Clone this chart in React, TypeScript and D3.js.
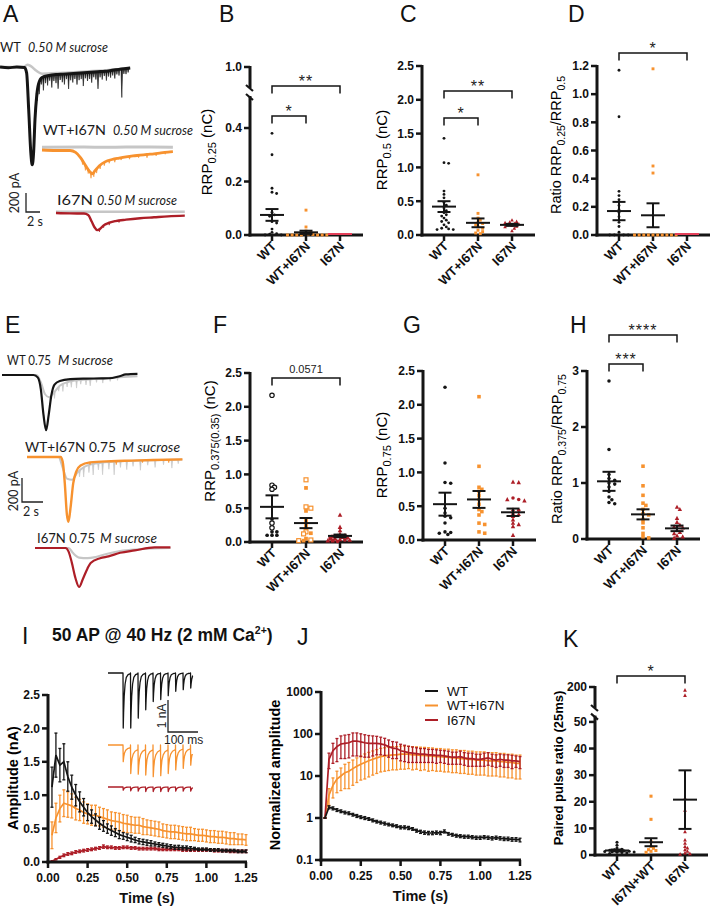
import React from 'react';
import * as d3 from 'd3';

type Pt = [number, number];

const FONT = "'Liberation Sans', Arial, Helvetica, sans-serif";
const TRACE_FONT = "Lato, 'Liberation Sans', sans-serif";
const BLACK = '#151515';
const ORANGE = '#f7922f';
const RED = '#ad1e27';
const GRAY = '#c6c6c6';
const PINK = '#e4405a';

// ---------- A: 0.50 M sucrose responses, [time (s), current (pA)] ----------
const aWT: Pt[] = [[0, 0], [1.2, -8], [2.4, 0], [3.5, -6], [3.8, -60], [4.1, -450], [4.4, -900], [4.6, -1030], [4.8, -900], [5.0, -550], [5.25, -300], [5.5, -180], [6, -110], [7, -90], [8, -80], [9, -75], [10, -70], [11, -65], [12, -60], [13, -55], [14, -50], [15, -45], [16, -35], [17, -25], [18, -15], [18.6, -10]];
const aWTGray: Pt[] = [[0, 0], [3.4, 0], [3.9, 25], [4.4, 10], [5.2, -40], [6, -70], [9, -60], [14, -40], [18.6, -10]];
const aWTSpikes: Pt[] = [[5.3, -80], [5.6, -120], [5.9, -60], [6.2, -140], [6.5, -70], [6.8, -100], [7.1, -55], [7.4, -130], [7.7, -65], [8.0, -90], [8.3, -150], [8.6, -60], [8.9, -85], [9.2, -110], [9.5, -55], [9.8, -160], [10.1, -70], [10.4, -95], [10.7, -60], [11.0, -120], [11.3, -75], [11.6, -65], [11.9, -140], [12.2, -60], [12.5, -90], [12.8, -70], [13.1, -110], [13.4, -55], [13.7, -80], [14.0, -180], [14.3, -60], [14.6, -85], [14.9, -50], [15.2, -100], [15.5, -60], [15.8, -75], [16.1, -55], [16.4, -90], [16.7, -50], [17.0, -65], [17.4, -300], [17.7, -55], [18.0, -60], [18.3, -45]];
const aMix: Pt[] = [[0, 0], [2, -5], [4, -5], [4.8, -25], [5.5, -80], [6.2, -160], [6.8, -225], [7.2, -250], [7.6, -215], [8.2, -165], [9, -125], [10, -100], [11, -85], [12, -72], [13, -62], [14, -55], [15, -47], [16, -40], [17, -30], [18, -22], [18.7, -18]];
const aMixGray: Pt[] = [[0, 30], [6, 32], [9, 28], [12, 31], [18.7, 30]];
const aMixSpikes: Pt[] = [[5.8, -40], [6.2, -55], [6.6, -45], [7.0, -60], [7.4, -50], [7.8, -45], [8.3, -40], [8.9, -35], [9.6, -30], [10.4, -35], [11.3, -25], [12.5, -30], [13.8, -25], [15.0, -35], [16.3, -25], [17.6, -20]];
const aI67N: Pt[] = [[0, 0], [2, -4], [4, -5], [4.6, -20], [5.1, -90], [5.5, -150], [5.9, -180], [6.3, -165], [6.8, -130], [7.5, -105], [8.5, -85], [10, -70], [12, -55], [14, -45], [16, -35], [18.4, -28]];
const aI67NGray: Pt[] = [[0, 12], [18.4, 12]];
const aI67NSpikes: Pt[] = [[6.2, -30], [6.8, -25], [7.6, -25], [9, -20]];

// ---------- E: 0.75 M sucrose responses ----------
const eWT: Pt[] = [[0, 0], [3, 0], [3.4, -20], [3.7, -120], [3.95, -330], [4.2, -460], [4.45, -330], [4.7, -170], [5.0, -80], [5.5, -50], [6.5, -35], [8, -30], [9.5, -28], [10.5, -25], [11.2, -10], [11.8, 5], [12.9, 10]];
const eWTGray: Pt[] = [[0, 0], [3.3, 0], [3.7, -60], [4.1, -160], [4.5, -185], [5.0, -140], [5.5, -90], [6.2, -60], [7, -45], [8.5, -35], [10, -25], [12.9, -10]];
const eWTGraySpikes: Pt[] = [[4.6, -40], [5.0, -55], [5.4, -35], [5.8, -60], [6.2, -40], [6.6, -50], [7.1, -65], [7.5, -35], [8.0, -45], [8.4, -55], [9.0, -30], [9.6, -40], [10.3, -30], [11, -25]];
const eMix: Pt[] = [[0, 0], [3.2, 0], [3.4, -40], [3.6, -220], [3.8, -480], [3.95, -540], [4.15, -420], [4.4, -220], [4.7, -120], [5.1, -70], [6, -45], [8, -35], [10, -30], [12, -25], [14.8, -20]];
const eMixGray: Pt[] = [[0, 0], [3.0, 0], [3.4, -90], [3.8, -180], [4.3, -190], [4.8, -130], [5.5, -80], [6.5, -55], [8, -40], [11, -30], [14.8, -20]];
const eMixGraySpikes: Pt[] = [[5, -50], [5.4, -80], [5.9, -60], [6.3, -90], [6.8, -55], [7.2, -100], [7.8, -60], [8.3, -110], [8.9, -50], [9.5, -70], [10.1, -45], [10.8, -80], [11.5, -40], [12.2, -60], [13.0, -40], [13.8, -70], [14.4, -35]];
const eMixSpikes: Pt[] = [[6, -20], [8.5, -30], [11, -20], [13.5, -25]];
const eI67N: Pt[] = [[0, 0], [2.9, 0], [3.2, -30], [3.5, -120], [3.85, -250], [4.2, -325], [4.55, -260], [5.0, -170], [5.3, -125], [6.2, -85], [7, -70], [8.1, -40], [9.5, -20], [11.4, 5], [12.9, 5]];
const eI67NGray: Pt[] = [[0, 0], [3.2, 0], [3.6, -40], [4.2, -80], [5, -85], [5.8, -75], [6.8, -50], [8.1, -25], [10, -10], [12.9, 0]];

// ---------- scatter panels ----------
const CATS = ['WT', 'WT+I67N', 'I67N'];
const CATS_K = ['WT', 'I67N+WT', 'I67N'];

const bWT = [0.38, 0.30, 0.175, 0.16, 0.155, 0.085, 0.075, 0.07, 0.05, 0.045, 0.022, 0.01, 0.005, 0.003, 0, 0];
const bMix = [0.093, 0.03, 0.015, 0.01, 0.006, 0.004, 0.002, 0, 0, 0, 0, 0, 0, 0];
const bI67N = [0, 0, 0, 0, 0, 0, 0, 0, 0, 0];
const bMean = [0.075, 0.01, 0];
const bSem = [0.022, 0.006, 0];

const cWT = [1.43, 1.07, 1.06, 0.65, 0.6, 0.55, 0.48, 0.44, 0.4, 0.36, 0.33, 0.3, 0.28, 0.25, 0.22, 0.2, 0.18, 0.15, 0.12, 0.1, 0.09, 0.08, 0.08];
const cMix = [0.89, 0.32, 0.25, 0.22, 0.19, 0.17, 0.15, 0.12, 0.1, 0.07, 0.05, 0.03, 0.02];
const cI67N = [0.22, 0.2, 0.19, 0.18, 0.17, 0.16, 0.15, 0.14, 0.13, 0.12, 0.1, 0.06];
const cMean = [0.42, 0.18, 0.15];
const cSem = [0.08, 0.065, 0.015];

const dWT = [1.17, 0.84, 0.31, 0.28, 0.25, 0.21, 0.18, 0.16, 0.13, 0.09, 0.06, 0.02, 0, 0, 0, 0, 0];
const dMix = [1.18, 0.49, 0.44, 0, 0, 0, 0, 0, 0, 0, 0, 0, 0];
const dI67N = [0, 0, 0, 0, 0, 0, 0, 0];
const dMean = [0.17, 0.14, 0];
const dSem = [0.065, 0.085, 0];

const fWT = [2.17, 0.84, 0.81, 0.78, 0.34, 0.28, 0.21, 0.15, 0.15, 0.1, 0.1, 0.1];
const fWTOpen = [1, 1, 1, 1, 0, 1, 1, 0, 0, 0, 0, 0];
const fMix = [0.92, 0.8, 0.52, 0.5, 0.46, 0.32, 0.25, 0.2, 0.15, 0.13, 0.12, 0.05, 0.03, 0.02, 0.02];
const fMixOpen = [1, 0, 1, 1, 0, 0, 0, 0, 1, 0, 1, 0, 1, 0, 1];
const fI67N = [0.4, 0.22, 0.17, 0.12, 0.1, 0.09, 0.08, 0.07, 0.06, 0.05, 0.05, 0.04, 0.03, 0.03, 0.02, 0.02, 0.01];
const fI67NShape = ['t', 't', 't', 't', 'c', 't', 's', 't', 'c', 't', 's', 't', 'c', 't', 's', 't', 'c'];
const fMean = [0.52, 0.28, 0.09];
const fSem = [0.17, 0.075, 0.02];

const gWT = [2.26, 1.14, 0.85, 0.84, 0.47, 0.4, 0.35, 0.33, 0.25, 0.12, 0.11, 0.1, 0.08];
const gMix = [2.12, 1.09, 0.78, 0.75, 0.72, 0.66, 0.6, 0.53, 0.45, 0.42, 0.37, 0.25, 0.23, 0.12, 0.1];
const gI67N = [0.86, 0.85, 0.62, 0.6, 0.6, 0.58, 0.45, 0.44, 0.4, 0.38, 0.35, 0.3, 0.25, 0.23, 0.2, 0.07];
const gI67NShape = ['t', 't', 'c', 'c', 't', 't', 't', 'c', 't', 't', 't', 't', 't', 't', 't', 't'];
const gMean = [0.53, 0.6, 0.41];
const gSem = [0.17, 0.125, 0.055];

const hWT = [2.82, 1.6, 1.15, 1.08, 1.05, 1.0, 0.98, 0.93, 0.85, 0.75, 0.7, 0.65, 0.63];
const hMix = [1.3, 0.95, 0.78, 0.64, 0.6, 0.53, 0.45, 0.43, 0.35, 0.29, 0.2, 0.1, 0.04, 0.02];
const hI67N = [0.57, 0.53, 0.37, 0.3, 0.25, 0.22, 0.2, 0.16, 0.12, 0.1, 0.06, 0.04, 0.02];
const hMean = [1.03, 0.44, 0.19];
const hSem = [0.17, 0.09, 0.05];

const kWT = [4.8, 3.7, 2.6, 2.2, 2.0, 1.8, 1.6, 1.5, 1.4, 1.3, 1.2, 1.1, 1.0, 0.9, 0.8, 0.6];
const kMix = [22.1, 13.4, 5.0, 3.2, 2.5, 2.0, 1.7, 1.4, 1.0];
const kI67N = [185, 160, 21.3, 16.8, 8.7, 5.6, 4.4, 3.2, 2.6, 2.0, 1.4, 0.8, 0.5, 0.3];
const kMean = [1.7, 4.8, 20.8];
const kSem = [0.35, 1.5, 11];

// ---------- I / J: 50 AP @ 40 Hz ----------
const AP_RATE_HZ = 40;
const iWT = [1.12, 1.6, 1.45, 1.5, 1.28, 1.12, 1.0, 0.9, 0.82, 0.74, 0.68, 0.63, 0.58, 0.54, 0.5, 0.47, 0.44, 0.41, 0.39, 0.37, 0.35, 0.33, 0.31, 0.3, 0.29, 0.28, 0.27, 0.26, 0.25, 0.24, 0.23, 0.22, 0.22, 0.21, 0.21, 0.2, 0.2, 0.19, 0.19, 0.19, 0.18, 0.18, 0.18, 0.17, 0.17, 0.17, 0.17, 0.16, 0.16, 0.16];
const iWTSem = [0.3, 0.33, 0.25, 0.27, 0.22, 0.18, 0.16, 0.15, 0.13, 0.12, 0.1, 0.09, 0.09, 0.08, 0.07, 0.07, 0.06, 0.06, 0.05, 0.05, 0.05, 0.04, 0.04, 0.04, 0.04, 0.04, 0.03, 0.03, 0.03, 0.03, 0.03, 0.03, 0.03, 0.03, 0.03, 0.03, 0.02, 0.02, 0.02, 0.02, 0.02, 0.02, 0.02, 0.02, 0.02, 0.02, 0.02, 0.02, 0.02, 0.02];
const iMix = [0.4, 0.66, 0.8, 0.88, 0.86, 0.84, 0.8, 0.78, 0.74, 0.72, 0.7, 0.7, 0.68, 0.66, 0.64, 0.62, 0.61, 0.6, 0.58, 0.57, 0.56, 0.55, 0.55, 0.53, 0.52, 0.51, 0.5, 0.49, 0.47, 0.46, 0.45, 0.45, 0.44, 0.43, 0.42, 0.42, 0.41, 0.4, 0.4, 0.39, 0.38, 0.38, 0.37, 0.37, 0.36, 0.35, 0.35, 0.34, 0.34, 0.33];
const iMixSem = [0.2, 0.22, 0.2, 0.2, 0.19, 0.18, 0.17, 0.16, 0.16, 0.15, 0.15, 0.15, 0.14, 0.14, 0.14, 0.13, 0.13, 0.13, 0.13, 0.13, 0.12, 0.12, 0.12, 0.12, 0.11, 0.11, 0.11, 0.11, 0.1, 0.1, 0.1, 0.1, 0.1, 0.1, 0.1, 0.1, 0.09, 0.09, 0.09, 0.09, 0.09, 0.09, 0.09, 0.09, 0.09, 0.09, 0.09, 0.08, 0.08, 0.08];
const iI67N = [0.01, 0.04, 0.07, 0.1, 0.12, 0.13, 0.15, 0.16, 0.17, 0.18, 0.19, 0.2, 0.21, 0.23, 0.22, 0.22, 0.21, 0.21, 0.22, 0.22, 0.21, 0.21, 0.2, 0.2, 0.2, 0.2, 0.2, 0.19, 0.19, 0.19, 0.19, 0.19, 0.19, 0.18, 0.18, 0.18, 0.18, 0.18, 0.18, 0.18, 0.18, 0.17, 0.17, 0.17, 0.17, 0.16, 0.16, 0.16, 0.16, 0.16];
const iI67NSem = [0.01, 0.01, 0.015, 0.02, 0.02, 0.02, 0.02, 0.02, 0.02, 0.02, 0.02, 0.02, 0.02, 0.025, 0.02, 0.02, 0.02, 0.02, 0.02, 0.02, 0.02, 0.02, 0.02, 0.02, 0.02, 0.02, 0.02, 0.02, 0.02, 0.02, 0.02, 0.02, 0.02, 0.02, 0.02, 0.02, 0.02, 0.02, 0.02, 0.02, 0.02, 0.02, 0.02, 0.02, 0.02, 0.02, 0.02, 0.02, 0.02, 0.02];

const jWT = [1.0, 1.8, 1.7, 1.55, 1.45, 1.35, 1.3, 1.2, 1.12, 1.05, 1.0, 0.95, 0.88, 0.82, 0.78, 0.74, 0.7, 0.67, 0.64, 0.6, 0.6, 0.58, 0.55, 0.5, 0.47, 0.45, 0.44, 0.44, 0.45, 0.44, 0.48, 0.42, 0.4, 0.38, 0.37, 0.36, 0.36, 0.35, 0.34, 0.34, 0.35, 0.34, 0.33, 0.34, 0.33, 0.32, 0.32, 0.31, 0.31, 0.3];
const jWTSem = [0, 0.15, 0.14, 0.12, 0.11, 0.1, 0.1, 0.09, 0.09, 0.08, 0.08, 0.07, 0.07, 0.06, 0.06, 0.06, 0.05, 0.05, 0.05, 0.05, 0.05, 0.05, 0.04, 0.04, 0.04, 0.04, 0.04, 0.04, 0.04, 0.04, 0.04, 0.03, 0.03, 0.03, 0.03, 0.03, 0.03, 0.03, 0.03, 0.03, 0.03, 0.03, 0.03, 0.03, 0.03, 0.03, 0.03, 0.03, 0.03, 0.03];
const jMix = [1.0, 3.5, 6, 8.5, 10, 12, 13, 15, 17, 19, 21, 23, 25, 27, 29, 30, 31, 32, 32, 33, 33, 33, 32, 32, 31, 31, 30, 30, 29, 29, 28, 28, 27, 27, 26, 26, 25, 25, 24, 24, 24, 23, 23, 23, 22, 22, 21, 21, 20, 20];
const jMixSem = [0, 1.5, 3, 4.5, 5.5, 7, 8, 9, 10, 11, 12.5, 13.5, 14.5, 15.5, 16.5, 17, 17.5, 18, 18, 18.5, 18.5, 18, 18, 17.5, 17.5, 17, 17, 16.5, 16, 16, 15.5, 15.5, 15, 15, 14.5, 14.5, 14, 14, 13.5, 13.5, 13.5, 13, 13, 13, 12.5, 12.5, 12, 12, 11.5, 11.5];
const jI67N = [1.0, 25, 40, 50, 58, 60, 62, 68, 68, 65, 62, 60, 60, 60, 58, 55, 50, 46, 45, 40, 38, 36, 35, 34, 33, 33, 32, 32, 31, 31, 30, 29, 28, 28, 29, 27, 26, 26, 25, 25, 26, 27, 25, 24, 25, 24, 24, 23, 23, 22];
const jI67NSem = [0, 10, 20, 28, 32, 34, 35, 38, 38, 36, 34, 32, 30, 28, 26, 24, 22, 20, 19, 17, 16, 15, 14, 13, 12, 12, 11, 11, 11, 10, 10, 10, 9, 9, 10, 9, 9, 9, 8, 8, 9, 9, 8, 8, 8, 8, 8, 8, 7, 7];

// inset: first 10 EPSCs of the train
const insetPulseMs = [50, 75, 100, 125, 150, 175, 200, 225, 250, 275];
const insetEndMs = 283;
const insetWTAmp = [1.72, 1.72, 1.41, 1.15, 0.89, 0.83, 0.71, 0.57, 0.52, 0.47];
const insetMixAmp = [0.52, 0.89, 0.91, 0.94, 0.99, 0.96, 0.89, 0.78, 0.73, 0.63];
const insetI67NAmp = [0.1, 0.12, 0.13, 0.14, 0.14, 0.14, 0.14, 0.13, 0.13, 0.13];
const pulseFast: Pt[] = [[0, 0], [0.8, 1], [2, 0.72], [4, 0.42], [7, 0.2], [11, 0.08], [17, 0.03], [24.9, 0.01]];
const pulseSlow: Pt[] = [[0, 0], [0.8, 1], [2.5, 0.72], [5, 0.48], [9, 0.32], [15, 0.22], [24.9, 0.16]];

// ---------------------------------------------------------------------------

function Trace({ data, x0, base, pxPerS, pxPerPA, color, width, spikes }: {
  data: Pt[]; x0: number; base: number; pxPerS: number; pxPerPA: number; color: string; width: number; spikes?: Pt[];
}) {
  const tEnd = d3.max(data, (d) => d[0]) ?? 0;
  const x = d3.scaleLinear().domain([0, tEnd]).range([x0, x0 + tEnd * pxPerS]);
  const y = d3.scaleLinear().domain([0, -1000]).range([base, base + 1000 * pxPerPA]);
  const line = d3.line<Pt>().x((d) => x(d[0])).y((d) => y(d[1])).curve(d3.curveMonotoneX);
  const at = (t: number) => {
    const i = Math.min(Math.max(d3.bisector((d: Pt) => d[0]).left(data, t), 1), data.length - 1);
    const [t0, v0] = data[i - 1];
    const [t1, v1] = data[i];
    return v0 + ((v1 - v0) * (t - t0)) / (t1 - t0 || 1);
  };
  return (
    <g>
      <path d={line(data) ?? ''} fill="none" stroke={color} strokeWidth={width} strokeLinejoin="round" />
      {spikes?.map(([t, a], i) => {
        const v = at(t);
        return <path key={i} d={`M${x(t) - 0.8},${y(v)}L${x(t)},${y(v + a)}L${x(t) + 0.8},${y(v)}`} fill={color} stroke={color} strokeWidth={0.6} />;
      })}
    </g>
  );
}

function ScaleBar({ x0, y0, pxPerS, pxPerPA, textX, textY, sx, sy }: {
  x0: number; y0: number; pxPerS: number; pxPerPA: number; textX: number; textY: number; sx: number; sy: number;
}) {
  const yb = d3.scaleLinear().domain([0, 200]).range([y0, y0 - 200 * pxPerPA]);
  const xb = d3.scaleLinear().domain([0, 2]).range([x0, x0 + 2 * pxPerS]);
  return (
    <g fontFamily={TRACE_FONT} fontSize={12.5} fill="#222">
      <path d={`M${x0},${yb(200)}V${yb(0)}H${xb(2)}`} fill="none" stroke="#222" strokeWidth={1.3} />
      <text transform={`translate(${textX},${textY}) rotate(-90)`} textAnchor="middle">200 pA</text>
      <text x={sx} y={sy}>2 s</text>
    </g>
  );
}

function TraceLabel({ y, plain, px, plen, ital, ix, ilen, size = 14 }: { y: number; plain: string; px: number; plen: number; ital: string; ix: number; ilen: number; size?: number }) {
  return (
    <g fontFamily={TRACE_FONT} fill="#1a1a1a">
      <text x={px} y={y} fontSize={size} textLength={plen} lengthAdjust="spacingAndGlyphs">{plain}</text>
      <text x={ix} y={y} fontSize={14} textLength={ilen} lengthAdjust="spacingAndGlyphs" fontStyle="italic">{ital}</text>
    </g>
  );
}

function swarm(ys: number[], minDist: number, step: number): number[] {
  const placed: { x: number; y: number }[] = [];
  const order = ys.map((_, i) => i).sort((a, b) => ys[a] - ys[b]);
  const out = new Array(ys.length).fill(0);
  for (const i of order) {
    for (let k = 0; k < 60; k++) {
      const cand = k === 0 ? 0 : (k % 2 === 1 ? 1 : -1) * Math.ceil(k / 2) * step;
      if (k === 59 || placed.every((p) => Math.hypot(p.x - cand, p.y - ys[i]) >= minDist)) {
        out[i] = cand;
        placed.push({ x: cand, y: ys[i] });
        break;
      }
    }
  }
  return out;
}

interface Seg { domain: [number, number]; range: [number, number]; ticks: number[] }
interface Grp { values: number[]; color: string; shapes?: string[]; shape: string; open?: number[]; flat?: boolean }
interface Bracket { a: number; b: number; y: number; label: string; small?: boolean }

function Marker({ shape, x, y, color, open, size }: { shape: string; x: number; y: number; color: string; open: boolean; size: number }) {
  const fill = open ? '#fff' : color;
  const sw = open ? 1.2 : 0;
  if (shape === 'c') return <circle cx={x} cy={y} r={open ? size * 0.5 : size * 0.42} fill={fill} stroke={color} strokeWidth={sw} />;
  if (shape === 's') {
    const s = open ? size * 0.9 : size * 0.85;
    return <rect x={x - s / 2} y={y - s / 2} width={s} height={s} fill={fill} stroke={color} strokeWidth={sw} />;
  }
  const s = size * 1.05;
  return <path d={`M${x},${y - s * 0.55}L${x + s / 2},${y + s * 0.4}L${x - s / 2},${y + s * 0.4}Z`} fill={fill} stroke={color} strokeWidth={sw} />;
}

function YLabel({ x, y, parts, size, sub, bold }: { x: number; y: number; parts: [string, boolean][]; size: number; sub: number; bold?: boolean }) {
  let level = 0;
  return (
    <text transform={`translate(${x},${y}) rotate(-90)`} textAnchor="middle" fontSize={size} fontWeight={bold ? 'bold' : 'normal'} fill="#000">
      {parts.map(([t, isSub], i) => {
        const target = isSub ? 1 : 0;
        const dy = (target - level) * 4;
        level = target;
        return <tspan key={i} fontSize={isSub ? sub : size} dy={dy}>{t}</tspan>;
      })}
    </text>
  );
}

function ScatterPanel({ axisX, segs, fmt, cats, groups, means, sems, brackets, size, spread = 0.8 }: {
  axisX: number; segs: Seg[]; fmt: (v: number) => string; cats: string[]; groups: Grp[]; means: number[]; sems: number[]; brackets: Bracket[]; size: number; spread?: number;
}) {
  const yBottom = segs[0].range[0];
  const scales = segs.map((s) => d3.scaleLinear().domain(s.domain).range(s.range));
  const yOf = (v: number) => {
    for (let k = segs.length - 1; k > 0; k--) if (v >= segs[k].domain[0]) return scales[k](v);
    return scales[0](v);
  };
  const x = d3.scalePoint<string>().domain(cats).range([axisX + 22, axisX + 22 + 34 * (cats.length - 1)]);
  const xEnd = (x(cats[cats.length - 1]) ?? 0) + 23;
  return (
    <g>
      {/* axes */}
      <g stroke={BLACK} strokeWidth={3} fill="none">
        {segs.map((s, k) => (
          <line key={k} x1={axisX} x2={axisX} y1={k === 0 ? yBottom + 1.5 : s.range[0]} y2={s.range[1] - 1} />
        ))}
        {segs.length > 1 && segs.slice(0, -1).map((s, k) => (
          <g key={k} strokeWidth={2.2}>
            <line x1={axisX - 4} x2={axisX + 3} y1={s.range[1] - 3} y2={s.range[1] + 3} />
            <line x1={axisX - 4} x2={axisX + 3} y1={segs[k + 1].range[0] - 3} y2={segs[k + 1].range[0] + 3} />
          </g>
        ))}
        <line x1={axisX - 1.5} x2={xEnd} y1={yBottom} y2={yBottom} />
        {segs.map((s, k) => s.ticks.map((t) => (
          <line key={`${k}-${t}`} x1={axisX - 6} x2={axisX} y1={scales[k](t)} y2={scales[k](t)} strokeWidth={2.5} />
        )))}
        {cats.map((c) => (
          <line key={c} x1={x(c)} x2={x(c)} y1={yBottom} y2={yBottom + 6} strokeWidth={2.5} />
        ))}
      </g>
      {/* points */}
      {groups.map((g, gi) => {
        const cx = x(cats[gi]) ?? 0;
        if (g.flat) {
          return <line key={gi} x1={cx - 12} x2={cx + 12} y1={yOf(0) - 1} y2={yOf(0) - 1} stroke={PINK} strokeWidth={2} />;
        }
        const ys = g.values.map(yOf);
        const off = swarm(ys, size * spread, size * spread * 0.85);
        return (
          <g key={gi}>
            {g.values.map((_, i) => (
              <Marker key={i} shape={g.shapes ? g.shapes[i] : g.shape} x={cx + off[i]} y={ys[i]} color={g.color} open={!!(g.open && g.open[i])} size={size} />
            ))}
          </g>
        );
      })}
      {/* mean +/- SEM */}
      {groups.map((g, gi) => {
        if (g.flat) return null;
        const cx = x(cats[gi]) ?? 0;
        const m = yOf(means[gi]);
        const hi = yOf(means[gi] + sems[gi]);
        const lo = yOf(Math.max(means[gi] - sems[gi], 0));
        return (
          <g key={gi} stroke={BLACK} strokeWidth={2}>
            <line x1={cx - 12} x2={cx + 12} y1={m} y2={m} />
            <line x1={cx} x2={cx} y1={lo} y2={hi} />
            <line x1={cx - 6.5} x2={cx + 6.5} y1={hi} y2={hi} />
            <line x1={cx - 6.5} x2={cx + 6.5} y1={lo} y2={lo} />
          </g>
        );
      })}
      <g fontSize={12} fontWeight="bold" fill="#111" textAnchor="end">
        {segs.map((s, k) => s.ticks.map((t) => (
          <text key={`${k}-${t}`} x={axisX - 8} y={scales[k](t) + 4.3}>{fmt(t)}</text>
        )))}
      </g>
      <g fontSize={13} fontWeight="bold" fill="#111" textAnchor="end">
        {cats.map((c) => (
          <text key={c} transform={`translate(${(x(c) ?? 0) + 5},${yBottom + 12}) rotate(-45)`}>{c}</text>
        ))}
      </g>
      {brackets.map((b, i) => {
        const x1 = x(cats[b.a]) ?? 0;
        const x2 = x(cats[b.b]) ?? 0;
        return (
          <g key={i}>
            <path d={`M${x1},${b.y + 7.5}V${b.y}H${x2}V${b.y + 7.5}`} fill="none" stroke={BLACK} strokeWidth={1.5} />
            {b.small ? (
              <text x={(x1 + x2) / 2} y={b.y - 5} textAnchor="middle" fontSize={11} fill="#222">{b.label}</text>
            ) : (
              <text x={(x1 + x2) / 2} y={b.y + 0.5} textAnchor="middle" fontSize={16} letterSpacing={1} fill="#222">{b.label}</text>
            )}
          </g>
        );
      })}
    </g>
  );
}

interface Series { mean: number[]; sem: number[]; color: string }

function TimePanel({ ax, xEnd, yTop, yBottom, log, yTicks, yFmt, series }: {
  ax: number; xEnd: number; yTop: number; yBottom: number; log: boolean; yTicks: number[]; yFmt: (v: number) => string; series: Series[];
}) {
  const x = d3.scaleLinear().domain([0, 1.25]).range([ax, xEnd]);
  const y = log
    ? d3.scaleLog().domain([0.1, 1000]).range([yBottom, yTop])
    : d3.scaleLinear().domain([0, 2.5]).range([yBottom, yTop]);
  const floor = log ? 0.1 : 0;
  const line = d3.line<Pt>().x((d) => x(d[0])).y((d) => y(d[1]));
  const xTicks = [0, 0.25, 0.5, 0.75, 1.0, 1.25];
  return (
    <g>
      {series.map((s, si) => {
        const pts: Pt[] = s.mean.map((m, i) => [(i + 1) / AP_RATE_HZ, m]);
        return (
          <g key={si} stroke={s.color}>
            {pts.map(([t, m], i) => {
              const hi = y(m + s.sem[i]);
              const lo = y(Math.max(m - s.sem[i], floor));
              return (
                <g key={i} strokeWidth={1.3}>
                  <line x1={x(t)} x2={x(t)} y1={lo} y2={hi} />
                  <line x1={x(t) - 1.5} x2={x(t) + 1.5} y1={hi} y2={hi} />
                  <line x1={x(t) - 1.5} x2={x(t) + 1.5} y1={lo} y2={lo} />
                </g>
              );
            })}
            <path d={line(pts) ?? ''} fill="none" strokeWidth={1.7} />
          </g>
        );
      })}
      <g stroke={BLACK} strokeWidth={3}>
        <line x1={ax} x2={ax} y1={yBottom + 1.5} y2={yTop - 1} />
        <line x1={ax - 1.5} x2={xEnd + 1} y1={yBottom} y2={yBottom} />
        {yTicks.map((t) => <line key={t} x1={ax - 6} x2={ax} y1={y(t)} y2={y(t)} strokeWidth={2.5} />)}
        {xTicks.map((t) => <line key={t} x1={x(t)} x2={x(t)} y1={yBottom} y2={yBottom + 6} strokeWidth={2.5} />)}
      </g>
      <g fontSize={12} fontWeight="bold" fill="#111">
        {yTicks.map((t) => <text key={t} x={ax - 8} y={y(t) + 4.3} textAnchor="end">{yFmt(t)}</text>)}
        {xTicks.map((t) => <text key={t} x={x(t)} y={yBottom + 20} textAnchor="middle">{d3.format('.2f')(t)}</text>)}
      </g>
      <text x={(ax + xEnd) / 2} y={yBottom + 41} textAnchor="middle" fontSize={14.5} fontWeight="bold" fill="#111">Time (s)</text>
    </g>
  );
}

function pulseTrain(amps: number[], shape: Pt[]): Pt[] {
  const pts: Pt[] = [[0, 0]];
  insetPulseMs.forEach((t0, k) => {
    shape.forEach(([dt, f]) => {
      if (t0 + dt <= insetEndMs) pts.push([t0 + dt, -amps[k] * f]);
    });
  });
  pts.push([insetEndMs, pts[pts.length - 1][1]]);
  return pts;
}

function Inset() {
  const x = d3.scaleLinear().domain([0, insetEndMs]).range([108, 108 + insetEndMs * 0.3]);
  const rows = [
    { amps: insetWTAmp, shape: pulseFast, base: 673, color: BLACK },
    { amps: insetMixAmp, shape: pulseSlow, base: 745, color: ORANGE },
    { amps: insetI67NAmp, shape: pulseFast, base: 787, color: RED },
  ];
  const sbX = d3.scaleLinear().domain([0, 100]).range([168, 198]);
  const sbY = d3.scaleLinear().domain([0, 1]).range([732, 700]);
  return (
    <g>
      {rows.map((r, i) => {
        const y = d3.scaleLinear().domain([0, -1]).range([r.base, r.base + 32]);
        const line = d3.line<Pt>().x((d) => x(d[0])).y((d) => y(d[1]));
        return <path key={i} d={line(pulseTrain(r.amps, r.shape)) ?? ''} fill="none" stroke={r.color} strokeWidth={1.3} strokeLinejoin="round" />;
      })}
      <path d={`M${sbX(0)},${sbY(1)}V${sbY(0)}H${sbX(100)}`} fill="none" stroke="#222" strokeWidth={1.3} />
      <text transform={`translate(${166},${716}) rotate(-90)`} textAnchor="middle" fontSize={12} fill="#222">1 nA</text>
      <text x={164} y={744} fontSize={12} fill="#222">100 ms</text>
    </g>
  );
}

function Letter({ x, y, t }: { x: number; y: number; t: string }) {
  return <text x={x} y={y} fontSize={23} fill="#111">{t}</text>;
}

export default function App() {
  const f1 = d3.format('.1f');
  const fInt = d3.format('d');
  const tick = (a: number, b: number, s: number) => d3.range(a, b + s / 2, s).map((v) => +v.toFixed(3));
  const A = { pxPerS: 7, pxPerPA: 0.095 };
  const E = { pxPerS: 10.5, pxPerPA: 0.12 };
  const legend: [string, string][] = [['WT', BLACK], ['WT+I67N', ORANGE], ['I67N', RED]];
  return (
    <svg width={711} height={915} viewBox="0 0 711 915" style={{ position: 'absolute', left: 0, top: 0 }} fontFamily={FONT}>
      <rect width={711} height={915} fill="#fff" />

      {/* ---------------- A ---------------- */}
      <Letter x={3} y={22} t="A" />
      <TraceLabel y={52} plain="WT" px={0} plen={21} ital="0.50 M sucrose" ix={28} ilen={80} />
      <Trace data={aWTGray} x0={0} base={67} {...A} color={GRAY} width={2.5} />
      <Trace data={aWT} x0={0} base={67} {...A} color={BLACK} width={3} spikes={aWTSpikes} />
      <TraceLabel y={135} plain="WT+I67N" px={43} plen={63} ital="0.50 M sucrose" ix={113} ilen={80} />
      <Trace data={aMixGray} x0={42} base={150} {...A} color={GRAY} width={3} />
      <Trace data={aMix} x0={42} base={150} {...A} color={ORANGE} width={2.8} spikes={aMixSpikes} />
      <TraceLabel y={205} plain="I67N" px={57} plen={36} ital="0.50 M sucrose" ix={97} ilen={80} />
      <Trace data={aI67NGray} x0={56} base={213} {...A} color={GRAY} width={2.5} />
      <Trace data={aI67N} x0={56} base={213} {...A} color={RED} width={2.4} spikes={aI67NSpikes} />
      <ScaleBar x0={26} y0={212} {...A} textX={19} textY={193} sx={27} sy={226} />

      {/* ---------------- B ---------------- */}
      <Letter x={219} y={22} t="B" />
      <YLabel x={212} y={152} size={15} sub={11} parts={[['RRP', false], ['0.25', true], [' (nC)', false]]} />
      <ScatterPanel axisX={250} size={3.4} fmt={f1} cats={CATS}
        segs={[{ domain: [0, 0.516], range: [235, 97], ticks: [0, 0.2, 0.4] }, { domain: [0.9, 1.0], range: [88, 67], ticks: [1.0] }]}
        groups={[{ values: bWT, color: BLACK, shape: 'c' }, { values: bMix, color: ORANGE, shape: 's' }, { values: bI67N, color: RED, shape: 't', flat: true }]}
        means={bMean} sems={bSem}
        brackets={[{ a: 0, b: 2, y: 86, label: '**' }, { a: 0, b: 1, y: 116, label: '*' }]} />

      {/* ---------------- C ---------------- */}
      <Letter x={400} y={22} t="C" />
      <YLabel x={387} y={150} size={15} sub={11} parts={[['RRP', false], ['0.5', true], [' (nC)', false]]} />
      <ScatterPanel axisX={422} size={3.4} fmt={f1} cats={CATS}
        segs={[{ domain: [0, 2.5], range: [235, 66], ticks: tick(0, 2.5, 0.5) }]}
        groups={[{ values: cWT, color: BLACK, shape: 'c' }, { values: cMix, color: ORANGE, shape: 's' }, { values: cI67N, color: RED, shape: 't' }]}
        means={cMean} sems={cSem}
        brackets={[{ a: 0, b: 2, y: 91, label: '**' }, { a: 0, b: 1, y: 118, label: '*' }]} />

      {/* ---------------- D ---------------- */}
      <Letter x={568} y={22} t="D" />
      <YLabel x={561} y={145} size={14.5} sub={10.5} parts={[['Ratio RRP', false], ['0.25', true], ['/RRP', false], ['0.5', true]]} />
      <ScatterPanel axisX={597} size={3.4} fmt={f1} cats={CATS}
        segs={[{ domain: [0, 1.2], range: [235, 66], ticks: tick(0, 1.2, 0.2) }]}
        groups={[{ values: dWT, color: BLACK, shape: 'c' }, { values: dMix, color: ORANGE, shape: 's' }, { values: dI67N, color: RED, shape: 't', flat: true }]}
        means={dMean} sems={dSem}
        brackets={[{ a: 0, b: 2, y: 53, label: '*' }]} />

      {/* ---------------- E ---------------- */}
      <Letter x={5} y={333} t="E" />
      <TraceLabel y={365} plain="WT 0.75" px={7} plen={44} size={13} ital="M sucrose" ix={58} ilen={55} />
      <Trace data={eWTGray} x0={2} base={375} {...E} color={GRAY} width={2} spikes={eWTGraySpikes} />
      <Trace data={eWT} x0={2} base={375} {...E} color={BLACK} width={2.2} />
      <TraceLabel y={452} plain="WT+I67N 0.75" px={25} plen={91} ital="M sucrose" ix={122} ilen={58} />
      <Trace data={eMixGray} x0={27} base={457} {...E} color={GRAY} width={2} spikes={eMixGraySpikes} />
      <Trace data={eMix} x0={27} base={457} {...E} color={ORANGE} width={2.4} spikes={eMixSpikes} />
      <TraceLabel y={543} plain="I67N 0.75" px={37} plen={58} ital="M sucrose" ix={100} ilen={57} />
      <Trace data={eI67NGray} x0={35} base={548} {...E} color={GRAY} width={2.2} />
      <Trace data={eI67N} x0={35} base={548} {...E} color={RED} width={2.2} />
      <ScaleBar x0={22} y0={502} {...E} textX={18} textY={491} sx={23} sy={516} />

      {/* ---------------- F ---------------- */}
      <Letter x={213} y={333} t="F" />
      <YLabel x={215} y={441} size={15} sub={11} parts={[['RRP', false], ['0.375(0.35)', true], [' (nC)', false]]} />
      <ScatterPanel axisX={250} size={4.4} fmt={f1} cats={CATS} spread={0.65}
        segs={[{ domain: [0, 2.5], range: [542, 373], ticks: tick(0, 2.5, 0.5) }]}
        groups={[{ values: fWT, color: BLACK, shape: 'c', open: fWTOpen }, { values: fMix, color: ORANGE, shape: 's', open: fMixOpen }, { values: fI67N, color: RED, shape: 't', shapes: fI67NShape }]}
        means={fMean} sems={fSem}
        brackets={[{ a: 0, b: 2, y: 378, label: '0.0571', small: true }]} />

      {/* ---------------- G ---------------- */}
      <Letter x={403} y={333} t="G" />
      <YLabel x={387} y={455} size={15} sub={11} parts={[['RRP', false], ['0.75', true], [' (nC)', false]]} />
      <ScatterPanel axisX={423} size={4.2} fmt={f1} cats={CATS}
        segs={[{ domain: [0, 2.5], range: [540, 371], ticks: tick(0, 2.5, 0.5) }]}
        groups={[{ values: gWT, color: BLACK, shape: 'c' }, { values: gMix, color: ORANGE, shape: 's' }, { values: gI67N, color: RED, shape: 't', shapes: gI67NShape }]}
        means={gMean} sems={gSem}
        brackets={[]} />

      {/* ---------------- H ---------------- */}
      <Letter x={570} y={333} t="H" />
      <YLabel x={562} y={449} size={14.5} sub={10.5} parts={[['Ratio RRP', false], ['0.375', true], ['/RRP', false], ['0.75', true]]} />
      <ScatterPanel axisX={587} size={4.2} fmt={fInt} cats={CATS}
        segs={[{ domain: [0, 3], range: [539, 371], ticks: [0, 1, 2, 3] }]}
        groups={[{ values: hWT, color: BLACK, shape: 'c' }, { values: hMix, color: ORANGE, shape: 's' }, { values: hI67N, color: RED, shape: 't' }]}
        means={hMean} sems={hSem}
        brackets={[{ a: 0, b: 2, y: 335, label: '****' }, { a: 0, b: 1, y: 364, label: '***' }]} />

      {/* ---------------- I ---------------- */}
      <Letter x={22} y={644} t="I" />
      <text x={52} y={641} fontSize={17.5} fontWeight="bold" fill="#111">
        50 AP @ 40 Hz (2 mM Ca<tspan fontSize={10.5} dy={-7}>2+</tspan><tspan dy={7}>)</tspan>
      </text>
      <YLabel x={18} y={778} size={14.5} sub={11} bold parts={[['Amplitude (nA)', false]]} />
      <TimePanel ax={48} xEnd={246} yTop={695} yBottom={862} log={false} yTicks={tick(0, 2.5, 0.5)} yFmt={f1}
        series={[{ mean: iMix, sem: iMixSem, color: ORANGE }, { mean: iI67N, sem: iI67NSem, color: RED }, { mean: iWT, sem: iWTSem, color: BLACK }]} />
      <Inset />

      {/* ---------------- J ---------------- */}
      <Letter x={297} y={645} t="J" />
      <YLabel x={280} y={775} size={14.5} sub={11} bold parts={[['Normalized amplitude', false]]} />
      <TimePanel ax={321} xEnd={520} yTop={692} yBottom={860} log={true} yTicks={[0.1, 1, 10, 100, 1000]} yFmt={(v) => String(v)}
        series={[{ mean: jMix, sem: jMixSem, color: ORANGE }, { mean: jI67N, sem: jI67NSem, color: RED }, { mean: jWT, sem: jWTSem, color: BLACK }]} />
      {legend.map(([name, col], i) => (
        <g key={name}>
          <line x1={425} x2={438} y1={691 + i * 14.5} y2={691 + i * 14.5} stroke={col} strokeWidth={2} />
          <text x={447} y={695.5 + i * 14.5} fontSize={13.5} fill="#111">{name}</text>
        </g>
      ))}

      {/* ---------------- K ---------------- */}
      <Letter x={563} y={647} t="K" />
      <YLabel x={563} y={768} size={13} sub={10} bold parts={[['Paired pulse ratio (25ms)', false]]} />
      <ScatterPanel axisX={595} size={3.6} fmt={fInt} cats={CATS_K}
        segs={[{ domain: [0, 52], range: [855, 716.6], ticks: [0, 10, 20, 30, 40, 50] }, { domain: [100, 200], range: [708, 687], ticks: [200] }]}
        groups={[{ values: kWT, color: BLACK, shape: 'c' }, { values: kMix, color: ORANGE, shape: 's' }, { values: kI67N, color: RED, shape: 't' }]}
        means={kMean} sems={kSem}
        brackets={[{ a: 0, b: 2, y: 676, label: '*' }]} />
    </svg>
  );
}
